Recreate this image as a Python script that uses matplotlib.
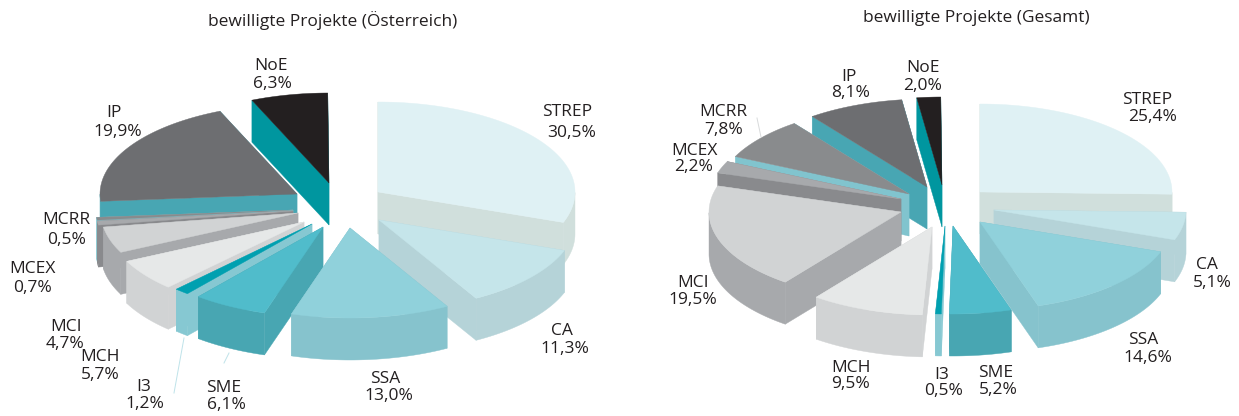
# plot.py - two exploded 3D-looking pies, drawn by hand with polygons
import numpy as np
import matplotlib
matplotlib.use('Agg')
import matplotlib.pyplot as plt
from matplotlib.patches import Polygon

plt.rcParams['font.family'] = ['Open Sans', 'DejaVu Sans']

categories = ['STREP', 'CA', 'SSA', 'SME', 'I3', 'MCH', 'MCI', 'MCEX', 'MCRR', 'IP', 'NoE']
values_at = [30.5, 11.3, 13.0, 6.1, 1.2, 5.7, 4.7, 0.7, 0.5, 19.9, 6.3]
values_total = [25.4, 5.1, 14.6, 5.2, 0.5, 9.5, 19.5, 2.2, 7.8, 8.1, 2.0]
title_at = 'bewilligte Projekte (Österreich)'
title_total = 'bewilligte Projekte (Gesamt)'

top_colors = ['#DFF1F4', '#C5E5EA', '#90D1DB', '#50BCCB', '#00A0B0', '#E6E8E8',
              '#D1D3D4', '#A7A9AC', '#898B8D', '#6D6E71', '#231F20']
side_colors = ['#D0DFDC', '#B5D3D8', '#86C3CD', '#48A6B2', '#86C8D2', '#D1D3D4',
               '#A7A9AC', '#898A8D', '#81C4CE', '#48A6B3', '#00969F']

# back to front
draw_order = [0, 1, 9, 10, 8, 7, 6, 5, 4, 3, 2]
DEPTH = 42
FONT = 12.5

# how far each slice is pulled out of the centre (pixels)
explode_at = [(0, 0), (1, 28), (-28, 36), (-55, 35), (-66, 32), (-74, 30),
              (-80, 21), (-85, 19), (-85, 18), (-81, 2), (-49, -9)]
explode_total = [(0, 0), (14, 18), (0, 30), (-27, 34), (-35, 34), (-48, 35),
                 (-79, 20), (-79, 7), (-71, 2), (-53, -5), (-38, -7)]

labels_at = [(567, 112, 572, 133), (562, 331, 565, 349), (385, 379, 389, 396),
             (224, 388, 226, 405), (144, 387, 145, 404), (100, 357, 100, 375),
             (66, 327, 65, 344), (32, 269, 32, 288), (66, 220, 67, 240),
             (114, 113, 118, 132), (271, 66, 272, 84)]
labels_total = [(1147, 100, 1153, 117), (1207, 265, 1212, 283), (1143, 340, 1148, 358),
                (996, 373, 998, 390), (942, 375, 944, 391), (851, 368, 851, 384),
                (693, 283, 693, 300), (694, 151, 694, 167), (723, 112, 724, 130),
                (849, 77, 851, 93), (923, 68, 923, 86)]


def draw_pie(ax, values, explode, labels, cx, cy, a, b):
    edges = np.concatenate([[0], np.cumsum(values)])
    for i in draw_order:
        # clockwise from twelve o'clock
        t0 = np.radians(90 - edges[i] * 3.6)
        t1 = np.radians(90 - edges[i + 1] * 3.6)
        t = np.linspace(t0, t1, 80)
        ox = cx + explode[i][0]
        oy = cy + explode[i][1]
        xs = ox + a * np.cos(t)
        ys = oy - b * np.sin(t)

        # the two radial walls
        for k in [0, -1]:
            wall = [(ox, oy), (xs[k], ys[k]), (xs[k], ys[k] + DEPTH), (ox, oy + DEPTH)]
            ax.add_patch(Polygon(wall, fc=side_colors[i], ec=side_colors[i], lw=0.3))

        # outer wall, only the front half of the ellipse shows
        front = np.sin(t) <= 0
        if front.sum() > 1:
            pts = list(zip(xs[front], ys[front])) + list(zip(xs[front][::-1], ys[front][::-1] + DEPTH))
            ax.add_patch(Polygon(pts, fc=side_colors[i], ec=side_colors[i], lw=0.3))

        # top
        pts = [(ox, oy)] + list(zip(xs, ys))
        ax.add_patch(Polygon(pts, fc=top_colors[i], ec=top_colors[i], lw=0.3))

    for i, name in enumerate(categories):
        x1, y1, x2, y2 = labels[i]
        ax.text(x1, y1, name, ha='center', va='center', fontsize=FONT, color='#231F20')
        pct = f'{values[i]:.1f}%'.replace('.', ',')
        ax.text(x2, y2, pct, ha='center', va='center', fontsize=FONT, color='#231F20')


fig = plt.figure(figsize=(12.39, 4.16), dpi=100)
ax = fig.add_axes([0, 0, 1, 1])
ax.set_xlim(0, 1239)
ax.set_ylim(416, 0)
ax.axis('off')

draw_pie(ax, values_at, explode_at, labels_at, 378, 192, 197, 90)
draw_pie(ax, values_total, explode_total, labels_total, 980, 192, 192, 88)

ax.text(333, 21, title_at, ha='center', va='center', fontsize=FONT, color='#231F20')
ax.text(976, 18, title_total, ha='center', va='center', fontsize=FONT, color='#231F20')

# thin leader lines
leader = '#BFE3E9'
ax.plot([184, 174], [338, 393], color=leader, lw=0.7)
ax.plot([229, 224], [353, 363], color=leader, lw=0.7)
ax.plot([757, 761], [118, 137], color='#D8DADB', lw=0.7)

fig.savefig('out.png', dpi=100)
